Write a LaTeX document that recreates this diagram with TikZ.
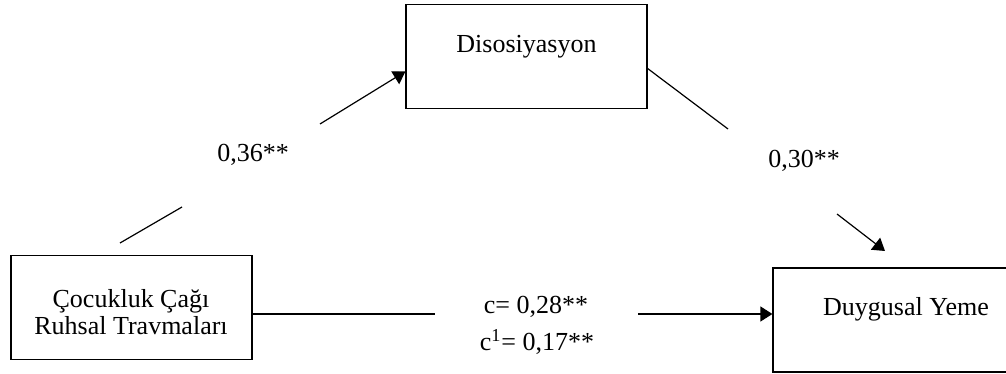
\documentclass[tikz,border=0pt]{standalone}
\usepackage{fontspec}
\setmainfont{Liberation Serif}
\usetikzlibrary{arrows.meta,positioning}

\begin{document}
\begin{tikzpicture}[
  x=0.5pt, y=-0.5pt, line width=0.6pt,
  >={Triangle[length=6pt,width=7.5pt]},
  box/.style={draw, rectangle, minimum width=120.5pt, minimum height=52pt, inner sep=0pt},
  txt/.style={font=\fontsize{13}{13.5}\selectfont, inner sep=0pt},
  coef/.style={font=\fontsize{13}{15}\selectfont, inner sep=0pt, anchor=base}
]
\useasboundingbox (0,0) rectangle (1006,374);
\clip (0,0) rectangle (1006,374);

% Boxes
\node[box] (trauma) at (131.5,307.5) {};
\node[box] (dis) at (526.5,56.5) {};
\node[box, minimum width=133pt] (eat) at (906,320) {};

% Box texts
\node[txt, align=center] (traumatxt) at (131,312) {Çocukluk Çağı\\Ruhsal Travmaları};
\node[txt, anchor=base] (distxt) at ([yshift=2pt]dis.center) {Disosiyasyon};
\node[txt, anchor=base] (eattxt) at ([yshift=2.5pt]eat.center) {Duygusal Yeme};

% Path a: trauma -> dissociation (broken by its label)
\coordinate (a1) at (120,243);
\coordinate (a2) at (182,207);
\coordinate (a3) at (320,124);
\draw (a1) -- (a2);
\draw[->] (a3) -- ([yshift=-7.5pt]dis.west);
\node[coef] (acoef) at (253,162) {0,36**};

% Path b: dissociation -> emotional eating
\coordinate (b1) at (728,129);
\coordinate (b2) at (837,214);
\coordinate (b3) at (885,251);
\draw ([yshift=-6pt]dis.east) -- (b1);
\draw[->] (b2) -- (b3);
\node[coef] (bcoef) at (804,168) {0,30**};

% Path c: direct effect
\coordinate (c1) at (435,314);
\coordinate (c2) at (638,314);
\draw ([yshift=-3.25pt]trauma.east) -- (c1);
\draw[->] (c2) -- ([yshift=3pt]eat.west);
\node[coef] (ctot) at (536,313) {c= 0,28**};
\node[coef] (cdir) at (537,350) {c\textsuperscript{1}= 0,17**};
\end{tikzpicture}
\end{document}
